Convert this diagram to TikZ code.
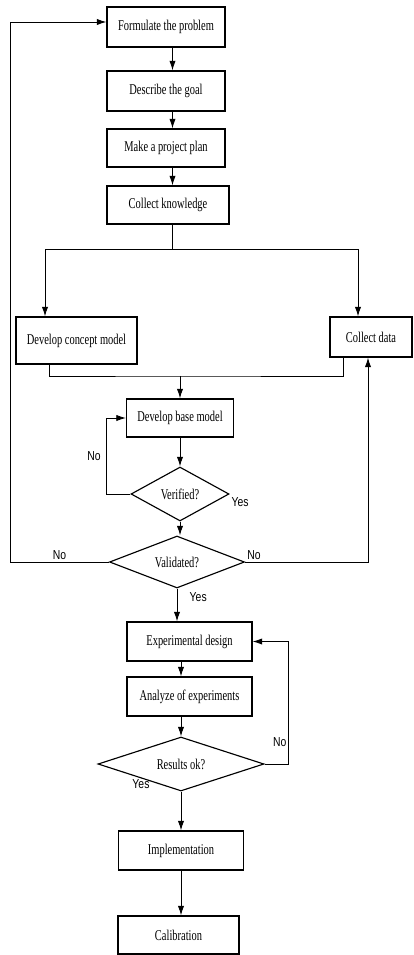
\documentclass[tikz,border=0pt]{standalone}
\usepackage{fontspec}
\setmainfont{Liberation Serif}[FakeStretch=0.7]
\newfontfamily\yesnofont{Liberation Sans}[FakeStretch=0.8]
\usepackage{tikz}
\usetikzlibrary{shapes.geometric,arrows.meta}

\tikzset{
    stepbox/.style={draw, rectangle, line width=0.65pt, inner sep=1pt, font=\fontsize{8.5}{10}\selectfont},
    decide/.style={draw, diamond, aspect=2, inner sep=0pt, line width=0.65pt, font=\fontsize{8.5}{10}\selectfont},
    arr/.style={line width=0.5pt, -{Latex[length=5.5pt,width=3.6pt]}},
    wire/.style={line width=0.5pt},
    yn/.style={font=\yesnofont\fontsize{7.4}{8}\selectfont, inner sep=1pt}
}

\begin{document}
\begin{tikzpicture}[x=0.02cm,y=-0.02cm]
                    \useasboundingbox (0,0) rectangle (413,955);

                    \node[stepbox, minimum width=2.36cm, minimum height=0.8cm] (formulate) at (166,27) {Formulate the problem};
                    \node[stepbox, minimum width=2.36cm, minimum height=0.8cm] (goal) at (166,91) {Describe the goal};
                    \node[stepbox, minimum width=2.36cm, minimum height=0.76cm] (plan) at (166,148) {Make a project plan};
                    \node[stepbox, minimum width=2.44cm, minimum height=0.76cm] (knowledge) at (168,205) {Collect knowledge};
                    \node[stepbox, minimum width=2.42cm, minimum height=0.94cm] (concept) at (76.5,340.5) {Develop concept model};
                    \node[stepbox, minimum width=1.64cm, minimum height=0.8cm] (data) at (371,337) {Collect data};
                    \node[stepbox, minimum width=2.14cm, minimum height=0.76cm] (basemodel) at (180,418) {Develop base model};
                    \node[decide, minimum width=1.96cm, minimum height=1.08cm,
                          label={[yn,anchor=north west,yshift=-1pt]east:Yes}] (verified) at (180,494) {Verified?};
                    \node[decide, minimum width=2.7cm, minimum height=1.04cm] (validated) at (177,562) {Validated?};
                    \node[stepbox, minimum width=2.5cm, minimum height=0.78cm] (expdesign) at (189.5,641.5) {Experimental design};
                    \node[stepbox, minimum width=2.5cm, minimum height=0.78cm] (analyze) at (189.5,696.5) {Analyze of experiments};
                    \node[decide, minimum width=3.32cm, minimum height=1.08cm,
                          label={[yn,anchor=north,xshift=1pt]south west:Yes}] (results) at (181,764) {Results ok?};
                    \node[stepbox, minimum width=2.5cm, minimum height=0.78cm] (implement) at (181,850.5) {Implementation};
                    \node[stepbox, minimum width=2.42cm, minimum height=0.76cm] (calib) at (178.5,935) {Calibration};

                    \coordinate (topcol) at (172.5,0);
                    \coordinate (midcol) at (181,0);
                    \coordinate (split) at (172,249);
                    \coordinate (merge) at (180,376);
                    \coordinate (back) at (10,0);
                    \coordinate (side) at (368,0);

                    \draw[arr] (formulate.south -| topcol) -- (goal.north -| topcol);
                    \draw[arr] (goal.south -| topcol) -- (plan.north -| topcol);
                    \draw[arr] (plan.south -| topcol) -- (knowledge.north -| topcol);
                    \draw[wire] (knowledge.south -| split) -- (split);
                    \draw[arr] (split) -| ([xshift=-0.63cm]concept.north);
                    \draw[arr] (split) -| ([xshift=-0.26cm]data.north);
                    \draw[wire] ([xshift=-0.55cm]concept.south) |- (merge) -| ([xshift=-0.56cm]data.south);
                    \draw[arr] (merge) -- (basemodel.north);
                    \draw[arr] (basemodel.south) -- (verified.north);
                    \draw[arr] (verified.west) -- ++(-24,0) |- node[pos=0.25, left, yn, xshift=-2pt] {No} (basemodel.west);
                    \draw[arr] (verified.south) -- (verified.south |- validated.north);
                    \draw[arr] (validated.west) -- node[above, yn] {No} (validated.west -| back) |- ([yshift=0.1cm]formulate.west);
                    \draw[arr] (validated.east) -| node[pos=0, anchor=south west, yn] {No} (data.south -| side);
                    \draw[arr] (validated.south) -- node[pos=0.27, right=6pt, yn] {Yes} (validated.south |- expdesign.north);
                    \draw[arr] (expdesign.south -| midcol) -- (analyze.north -| midcol);
                    \draw[arr] (analyze.south -| results) -- (results.north);
                    \draw[arr] (results.east) -- ++(24,0) |- node[pos=0.09, left, yn] {No} (expdesign.east);
                    \draw[arr] (results.south) -- (implement.north);
                    \draw[arr] (implement.south) -- (implement.south |- calib.north);
                \end{tikzpicture}
\end{document}
